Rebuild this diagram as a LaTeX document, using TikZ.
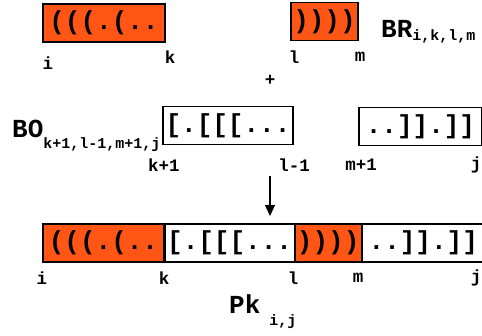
\documentclass[tikz,border=0pt]{standalone}
\usepackage{fontspec}
\setmainfont{Liberation Mono}
\usetikzlibrary{arrows.meta,positioning}
\definecolor{PairOrange}{RGB}{255,86,22}

\tikzset{
  seg/.style={draw,line width=1.1pt,minimum height=38pt,inner sep=0pt,
    font=\bfseries\fontsize{26}{26}\selectfont},
  paired/.style={seg,fill=PairOrange},
  idx/.style={inner sep=0pt,font=\bfseries\fontsize{17.5}{17.5}\selectfont},
  tag/.style={inner sep=0pt,anchor=base west,font=\bfseries\fontsize{26}{26}\selectfont},
}
\newcommand{\subidx}[2]{\raisebox{#1}{\fontsize{15}{15}\selectfont #2}}

\begin{document}
\begin{tikzpicture}[x=1pt,y=-1pt,>={Triangle[width=10pt,length=11pt]}]
  \useasboundingbox (0,0) rectangle (482,335);
  % outer pairs BR
  \node[paired,minimum width=122pt] (brL) at (104,23) {(((.(..};
  \node[paired,minimum width=67pt] (brR) at (324.5,21.5) {))))};
  \node[tag] (brTag) at (381,37) {BR\subidx{-3pt}{i,k,l,m}};
  \node[idx] (brI) at (48,63) {i};
  \node[idx] (brK) at (170,57) {k};
  \node[idx] (brL1) at (294,57) {l};
  \node[idx] (brM) at (360,57) {m};
  \node[idx] (plus) at (270,80) {+};
  % inner part BO
  \node[tag] (boTag) at (12,137) {BO\subidx{-11pt}{k+1,l-1,m+1,j}};
  \node[seg,minimum width=130pt] (boL) at (228,125.5) {[.[[[...};
  \node[seg,minimum width=123pt] (boR) at (420.5,126.5) {..]].]]};
  \node[idx] (boK) at (164,165) {k+1};
  \node[idx] (boL1) at (294,165) {l-1};
  \node[idx] (boM) at (361,165) {m+1};
  \node[idx] (boJ) at (476,165) {j};
  % combined Pk
  \coordinate (from) at (270,176);
  \coordinate (into) at (270,216);
  \draw[->,line width=1.1pt] (from) -- (into);
  \node[paired,minimum width=121pt] (pkA) at (103.5,243) {(((.(..};
  \node[seg,minimum width=129pt,right=0pt of pkA] (pkB) {[.[[[...};
  \node[paired,minimum width=66pt,right=0pt of pkB] (pkC) {))))};
  \node[seg,minimum width=122pt,right=0pt of pkC] (pkD) {..]].]]};
  \node[idx] (pkI) at (42,278) {i};
  \node[idx] (pkK) at (164,278) {k};
  \node[idx] (pkL) at (293,278) {l};
  \node[idx] (pkM) at (358,278) {m};
  \node[idx] (pkJ) at (476,278) {j};
  \node[tag] (pkTag) at (229,313) {Pk\subidx{-12pt}{ i,j}};
\end{tikzpicture}
\end{document}
